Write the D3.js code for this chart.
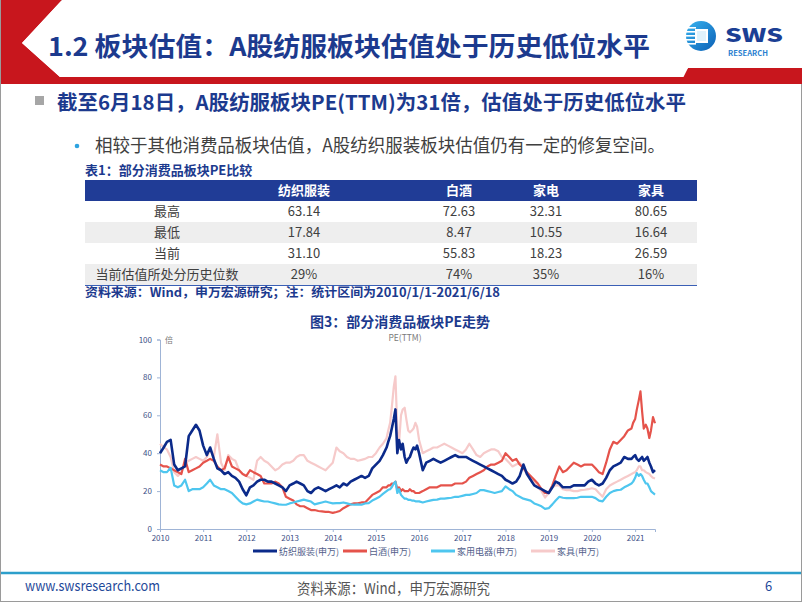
<!DOCTYPE html>
<html><head><meta charset="utf-8">
<script src="https://cdn.jsdelivr.net/npm/d3@7"></script>
<style>
body{margin:0;background:#fff}
svg{display:block}
text{font-family:"Noto Sans CJK SC","Noto Sans",sans-serif}
</style>
</head><body><svg id="c" width="802" height="602"></svg>
<script>
// ---------- DATA ----------
const slideTitle = "1.2 板块估值：A股纺服板块估值处于历史低位水平";
const bullet1 = "截至6月18日，A股纺服板块PE(TTM)为31倍，估值处于历史低位水平";
const bullet2 = "相较于其他消费品板块估值，A股纺织服装板块估值仍有一定的修复空间。";
const tableTitle = "表1：部分消费品板块PE比较";
const tableCols = ["纺织服装","白酒","家电","家具"];
const tableRows = ["最高","最低","当前","当前估值所处分历史位数"];
const tableValues = [
  ["63.14","72.63","32.31","80.65"],
  ["17.84","8.47","10.55","16.64"],
  ["31.10","55.83","18.23","26.59"],
  ["29%","74%","35%","16%"]
];
const tableSource = "资料来源：Wind，申万宏源研究；注：统计区间为2010/1/1-2021/6/18";
const chartTitle = "图3：部分消费品板块PE走势";
const chartSubtitle = "PE(TTM)";
const yUnit = "倍";
const yTicks = [0,20,40,60,80,100];
const footerUrl = "www.swsresearch.com";
const footerSource = "资料来源：Wind，申万宏源研究";
const pageNum = "6";

const seriesNames = ["纺织服装(申万)","白酒(申万)","家用电器(申万)","家具(申万)"];

const dates = [
"2010-01-01","2010-02-01","2010-03-01","2010-04-01","2010-05-01","2010-06-01","2010-07-01","2010-08-01","2010-09-01","2010-10-01","2010-11-01","2010-12-01",
"2011-01-01","2011-02-01","2011-03-01","2011-04-01","2011-05-01","2011-06-01","2011-07-01","2011-08-01","2011-09-01","2011-10-01","2011-11-01","2011-12-01",
"2012-01-01","2012-02-01","2012-03-01","2012-04-01","2012-05-01","2012-06-01","2012-07-01","2012-08-01","2012-09-01","2012-10-01","2012-11-01","2012-12-01",
"2013-01-01","2013-02-01","2013-03-01","2013-04-01","2013-05-01","2013-06-01","2013-07-01","2013-08-01","2013-09-01","2013-10-01","2013-11-01","2013-12-01",
"2014-01-01","2014-02-01","2014-03-01","2014-04-01","2014-05-01","2014-06-01","2014-07-01","2014-08-01","2014-09-01","2014-10-01","2014-11-01","2014-12-01",
"2015-01-01","2015-02-01","2015-03-01","2015-04-01","2015-04-15","2015-05-01","2015-05-15","2015-06-01","2015-06-15","2015-07-01","2015-07-15","2015-08-01","2015-08-15","2015-09-01","2015-09-15","2015-10-01","2015-10-15","2015-11-01","2015-11-15","2015-12-01","2015-12-15",
"2016-01-01","2016-02-01","2016-03-01","2016-04-01","2016-05-01","2016-06-01","2016-07-01","2016-08-01","2016-09-01","2016-10-01","2016-11-01","2016-12-01",
"2017-01-01","2017-02-01","2017-03-01","2017-04-01","2017-05-01","2017-06-01","2017-07-01","2017-08-01","2017-09-01","2017-10-01","2017-11-01","2017-12-01",
"2018-01-01","2018-02-01","2018-03-01","2018-04-01","2018-05-01","2018-06-01","2018-07-01","2018-08-01","2018-09-01","2018-10-01","2018-11-01","2018-12-01",
"2019-01-01","2019-02-01","2019-03-01","2019-04-01","2019-05-01","2019-06-01","2019-07-01","2019-08-01","2019-09-01","2019-10-01","2019-11-01","2019-12-01",
"2020-01-01","2020-02-01","2020-03-01","2020-04-01","2020-05-01","2020-06-01","2020-07-01","2020-08-01","2020-09-01","2020-10-01","2020-11-01","2020-12-01","2020-12-15",
"2021-01-01","2021-01-15","2021-02-01","2021-02-15","2021-03-01","2021-03-15","2021-04-01","2021-04-15","2021-05-01","2021-05-15","2021-06-01","2021-06-18"
];

const textileValues = [
40,43,46,47,34,31,32,33,49,52,55,52,
44,39,43,37,32,31,29,30,28,27,25,21,
17.8,22,23,25,26,26,25,25,24,23,22,20,
23,24,25,24,23,20,19,21,22,21,20,21,
22,23,22,24,23,25,26,27,28,27,28,32,
34,36,39,43,46,49,53,58,63.1,40,47,42,45,38,35,37,38,41,43,42,44,
40,31,35,36,37,36,35,36,37,38,39,38,
38,38,37,36,35,34,33,32,31,30,29,28,
26,25,24,25,28,34,29,26,23,22,21,20,
19,22,25,24,22,22,22,23,23,23,23,25,
26,24,23,24,27,31,33,34,35,38,37,37,38,
39,37,36,37,38,36,37,38,35,33,30,31.1
];
const liquorValues = [
34,33,33,32,31,30,29,37,30,31,32,33,
35,36,37,36,33,31,32,38,33,32,31,29,
28,31,30,29,28,24,24,24,25,24,22,17,
16,15,13,12,12,11,10,10,9.5,9.3,9,9,
8.5,9,9.5,11,12,13,13.5,13.5,14,14,16,18,
19,20,22,22,23,23,24,24,25,21,22,20,21,20,20,20,21,20,20,19,19,
19,20,21,22,22,22,23,23,23,23,24,24,
24,25,27,28,29,30,31,33,34,34,35,36,
40,38,36,37,34,32,30,28,26,24,21,19,
19,23,28,33,30,31,33,35,34,33,34,34,
34,32,30,29,35,42,46,45,47,49,52,53,56,
58,63,68,72.6,62,53,55,53,48,52,59,55.8
];
const applianceValues = [
31,30,30,32.3,23,22,23,26,20,21,21,21,
22,24,26,23,22,21,21,20,19,17,15,13.5,
13,13.5,14.5,15.5,15,14.5,14.5,14,13.5,13,12.8,12.8,
13.5,14,14.5,15,15.5,15,14.5,13,13.5,14,14.5,14,
13.5,13.7,13.7,14,13.5,13,12.8,13,12.8,13.5,13.7,15,
16,17,18.5,20,20.7,21,22,24,25,19,21,18,17,16,16,15.4,15.4,15,15,14.6,14.6,
14.6,14,14.5,15,15.4,15.5,16,16,16.3,16.5,17,17,
17.5,18,18,18.5,19,20.5,20.5,20,19.5,19,19.5,20,
22.5,21,20,18,17,16,15.5,15,13.5,12.8,12,10.6,
11,13,15,17,16.5,16.3,16.3,16.3,16.5,17,17,17,
17,16.3,15,14.6,17,19,20,20.5,20.7,22,23,24,25,
27,29.5,28,29,28,26,24,24,22,20,19,18.2
];
const furnitureValues = [
45,43,42,38,30,28,30,35,36,37,38,37,
36,38,42,38,50,35,31,39,37,36,31,29,
28,27,26,36,38,36,35,33,31,32,34,35,
35,36,38,39,39,36,35,34,33,32,31,33,
35,43,41,40,38,37,37,36,36.5,37,38,38,
40,43,45,48,52,56,64,75,80.6,52,45,60,63,64,58,52,51,52,53,56,54,
47,40,41,42,43,43,44,45,44,43,42,41,
40,42,45,42,39,38,40,41,42,42,41,38,
37,35,33,34,35,32,29,27,25,22,20,16.6,
19,22,23,23,21,20.5,20.5,20,20,20.5,20.7,21,
21.5,21,19,17,21,23,24,25,26,27,28,29,29.5,
30,31,33,33,31,31,30,29.5,29,28,27,26.6
];

// ---------- STYLE ----------
const NAVY = "#1c3a8e";
const seriesColors = ["#0b2a8a","#e5534b","#4ec6ef","#f6caca"];
const seriesWidths = [2.6,2.2,2.2,2.2];

const svg = d3.select("#c");

// slide frame
svg.append("rect").attr("x",0.5).attr("y",0.5).attr("width",801).attr("height",601)
  .attr("fill","#fff").attr("stroke","#9a9a9a");

// header red shapes
svg.append("polygon").attr("fill","#c8161d")
  .attr("points","1,0 62,0 22,43 60,77 802,77 802,84 1,84");
svg.append("polygon").attr("fill","#c8161d")
  .attr("points","680,84 688,68 802,68 802,84");
svg.append("polygon").attr("fill","#fff")
  .attr("points","62,0 22,43 60,77 680,77 688,68 802,68 802,0");

// title
svg.append("text").attr("x",48).attr("y",56).attr("font-size",26).attr("font-weight",700)
  .attr("fill",NAVY).attr("textLength",602).attr("lengthAdjust","spacingAndGlyphs").text(slideTitle);

// logo
const lg = svg.append("g");
const grad = svg.append("defs").append("linearGradient").attr("id","lgG").attr("x1","0").attr("y1","0").attr("x2","1").attr("y2","1");
grad.append("stop").attr("offset","0").attr("stop-color","#38b4f0");
grad.append("stop").attr("offset","1").attr("stop-color","#0b5fb5");
lg.append("circle").attr("cx",701).attr("cy",36).attr("r",15).attr("fill","url(#lgG)");
[27,31,35,39,43].forEach(yy=>lg.append("rect").attr("x",686).attr("y",yy).attr("width",10).attr("height",1.6).attr("fill","#fff"));
lg.append("rect").attr("x",695).attr("y",29).attr("width",13).attr("height",14).attr("fill","#fff");
lg.append("rect").attr("x",697).attr("y",31).attr("width",9).attr("height",10).attr("fill","#dff2fc");
lg.append("text").attr("x",725).attr("y",42).attr("font-size",18).attr("font-weight",800)
  .attr("font-family","Roboto, Inter, sans-serif").attr("fill","#1b3f94")
  .attr("textLength",58).attr("lengthAdjust","spacingAndGlyphs").text("SWS");
lg.append("text").attr("x",728).attr("y",55.5).attr("font-size",7).attr("font-weight",700)
  .attr("font-family","Roboto, sans-serif").attr("fill","#2a7fd0")
  .attr("textLength",40).attr("lengthAdjust","spacingAndGlyphs").text("RESEARCH");

// bullets
svg.append("rect").attr("x",35).attr("y",96).attr("width",9).attr("height",9).attr("fill","#a6a6a6");
svg.append("text").attr("x",57).attr("y",110).attr("font-size",20).attr("font-weight",700)
  .attr("fill",NAVY).attr("textLength",629).attr("lengthAdjust","spacingAndGlyphs").text(bullet1);
svg.append("circle").attr("cx",77).attr("cy",146).attr("r",2.3).attr("fill","#2ea3e0");
svg.append("text").attr("x",95).attr("y",152).attr("font-size",18)
  .attr("fill","#404040").attr("textLength",570).attr("lengthAdjust","spacingAndGlyphs").text(bullet2);

// table
svg.append("text").attr("x",85).attr("y",175).attr("font-size",13).attr("font-weight",700)
  .attr("fill",NAVY).text(tableTitle);
const tx0 = 85, tx1 = 697, headTop = 180, headH = 21, rowH = 21;
const colX = [304, 459, 546, 651], labelX = 167;
svg.append("rect").attr("x",tx0).attr("y",headTop).attr("width",tx1-tx0).attr("height",headH).attr("fill","#203c96");
tableCols.forEach((c,i)=>svg.append("text").attr("x",colX[i]).attr("y",headTop+headH/2+4.5)
  .attr("text-anchor","middle").attr("font-size",13).attr("font-weight",700).attr("fill","#fff").text(c));
tableRows.forEach((r,ri)=>{
  const top = headTop+headH+ri*rowH;
  if(ri%2===1) svg.append("rect").attr("x",tx0).attr("y",top).attr("width",tx1-tx0).attr("height",rowH).attr("fill","#eeeeee");
  svg.append("text").attr("x",labelX).attr("y",top+rowH/2+4.5).attr("text-anchor","middle")
    .attr("font-size",13).attr("fill","#404040").text(r);
  tableValues[ri].forEach((v,ci)=>svg.append("text").attr("x",colX[ci]).attr("y",top+rowH/2+4.5)
    .attr("text-anchor","middle").attr("font-size",13).attr("fill","#404040").text(v));
});
const tBottom = headTop+headH+tableRows.length*rowH;
svg.append("line").attr("x1",tx0).attr("x2",tx1).attr("y1",tBottom+0.5).attr("y2",tBottom+0.5).attr("stroke","#3a5fb5").attr("stroke-width",1.2);
svg.append("text").attr("x",85).attr("y",tBottom+12).attr("font-size",12.5).attr("font-weight",700)
  .attr("fill",NAVY).attr("textLength",415).attr("lengthAdjust","spacingAndGlyphs").text(tableSource);

// chart
svg.append("text").attr("x",400).attr("y",327).attr("text-anchor","middle").attr("font-size",14).attr("font-weight",700)
  .attr("fill",NAVY).text(chartTitle);
svg.append("text").attr("x",405).attr("y",341).attr("text-anchor","middle").attr("font-size",8.5)
  .attr("fill","#7a7a7a").text(chartSubtitle);

const parse = d3.timeParse("%Y-%m-%d");
const dd = dates.map(parse);
const x = d3.scaleTime().domain([parse("2010-01-01"), parse("2021-06-18")]).range([160, 655]);
const y = d3.scaleLinear().domain([0,100]).range([529, 339.5]);

const axisColor = "#9fb4d6";
const gy = svg.append("g").attr("transform","translate(160,0)")
  .call(d3.axisLeft(y).tickValues(yTicks).tickSize(3).tickPadding(5));
gy.select(".domain").attr("stroke",axisColor);
gy.selectAll(".tick line").attr("stroke",axisColor);
gy.selectAll("text").attr("font-size",8).attr("fill","#3d4f86").attr("font-family","Liberation Sans, Arial, sans-serif");

const gx = svg.append("g").attr("transform","translate(0,529)")
  .call(d3.axisBottom(x).ticks(d3.timeYear.every(1)).tickFormat(d3.timeFormat("%Y")).tickSize(3).tickPadding(3));
gx.select(".domain").attr("stroke",axisColor);
gx.selectAll(".tick line").attr("stroke",axisColor);
gx.selectAll("text").attr("font-size",8).attr("fill","#3d4f86").attr("font-family","Liberation Sans, Arial, sans-serif");

svg.append("text").attr("x",165).attr("y",343).attr("font-size",8).attr("fill","#7a7a7a").text(yUnit);

const allSeries = [textileValues, liquorValues, applianceValues, furnitureValues];
const line = d3.line().x((d,i)=>x(dd[i])).y(d=>y(d));
[3,1,2,0].forEach(k=>{
  svg.append("path").datum(allSeries[k]).attr("d",line).attr("fill","none")
    .attr("stroke",seriesColors[k]).attr("stroke-width",seriesWidths[k]).attr("stroke-linejoin","round");
});

// legend
const legX = [253, 343, 431, 531];
seriesNames.forEach((n,i)=>{
  svg.append("line").attr("x1",legX[i]).attr("x2",legX[i]+24).attr("y1",551).attr("y2",551)
    .attr("stroke",seriesColors[i]).attr("stroke-width",3);
  svg.append("text").attr("x",legX[i]+26).attr("y",554.5).attr("font-size",9).attr("fill","#52608a").text(n);
});

// footer
svg.append("line").attr("x1",1).attr("x2",801).attr("y1",573).attr("y2",573).attr("stroke","#2d9fcb").attr("stroke-width",2.5);
svg.append("text").attr("x",25).attr("y",591).attr("font-size",14).attr("fill","#1f4a9a")
  .attr("font-family","Liberation Sans Narrow, Liberation Sans, Arial, sans-serif")
  .attr("textLength",135).attr("lengthAdjust","spacingAndGlyphs").text(footerUrl);
svg.append("text").attr("x",297).attr("y",594).attr("font-size",15).attr("fill","#555")
  .attr("textLength",193).attr("lengthAdjust","spacingAndGlyphs").text(footerSource);
svg.append("text").attr("x",765).attr("y",591).attr("font-size",13).attr("fill","#1f4a9a")
  .attr("font-family","Liberation Sans, Arial, sans-serif").text(pageNum);
</script></body></html>
